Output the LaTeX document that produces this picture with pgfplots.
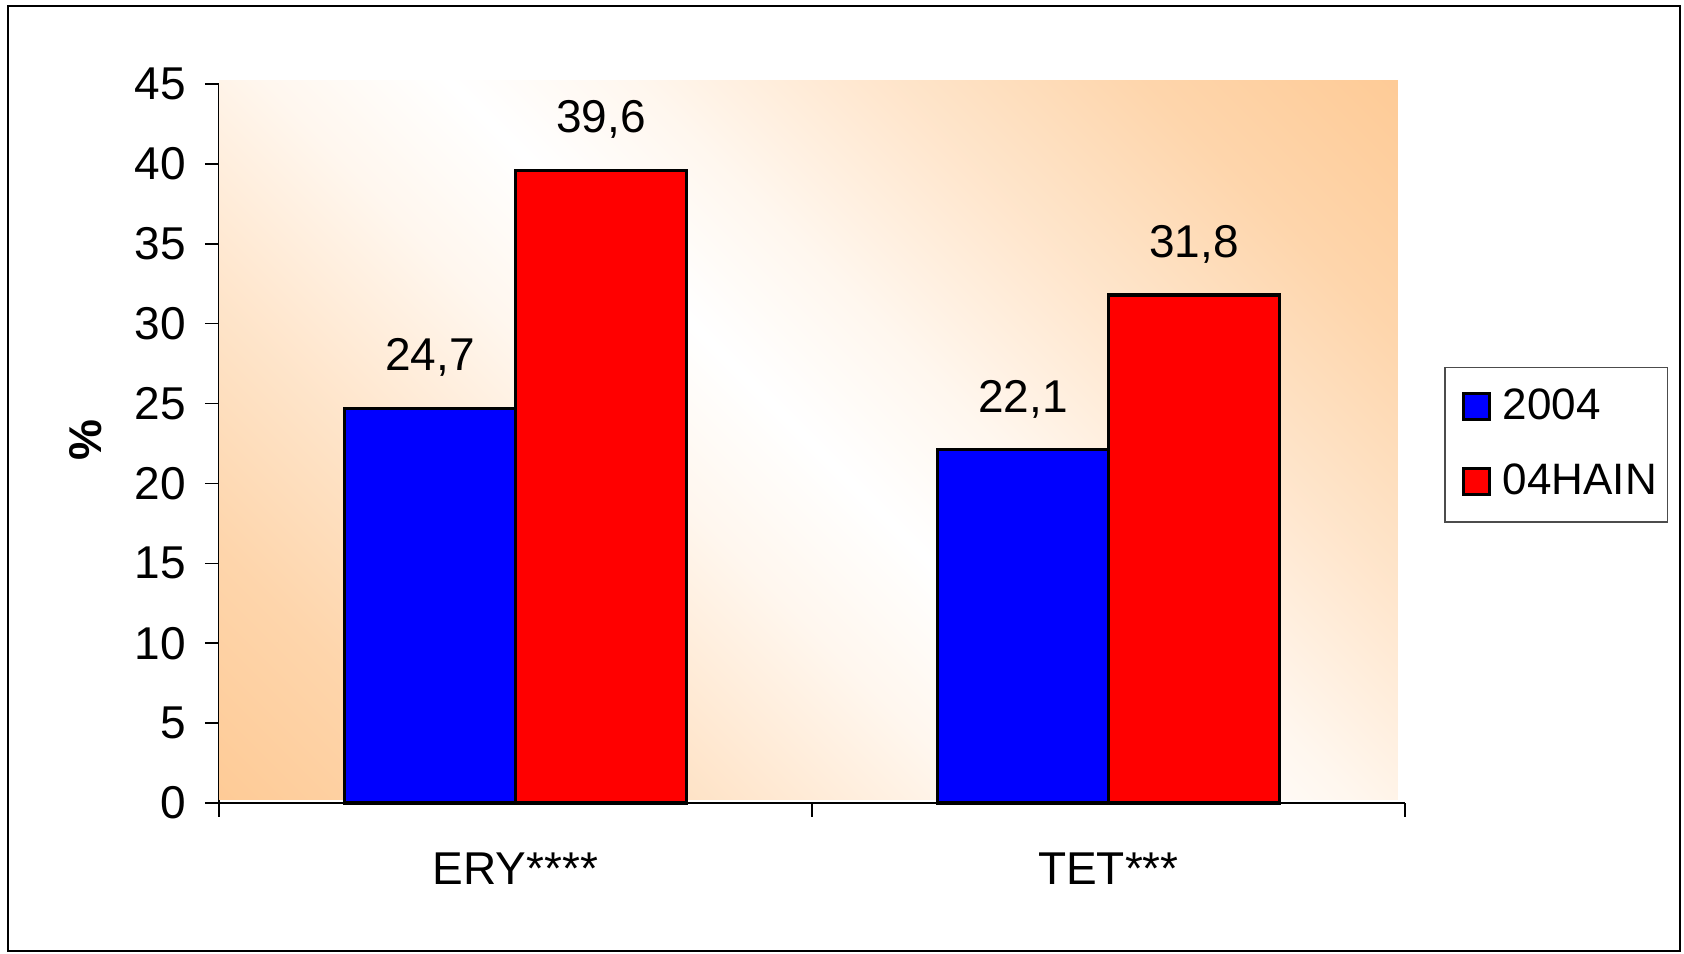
\documentclass[border=0pt]{standalone}
\usepackage{fontspec}
\setmainfont{Liberation Sans}
\usepackage{pgfplots}
\pgfplotsset{compat=1.18}

\definecolor{peach}{HTML}{FECB97}
\colorlet{peachA}{peach!80!white}
\colorlet{peachB}{peach!48!white}
\colorlet{peachC}{peach!16!white}
% diagonal wash: peach in two opposite corners, white along the other diagonal
\pgfdeclarehorizontalshading{peachdiag}{100bp}{%
  color(0bp)=(peach); color(14.6bp)=(peach); color(24bp)=(peachA);
  color(34bp)=(peachB); color(43bp)=(peachC); color(50bp)=(white);
  color(57bp)=(peachC); color(66bp)=(peachB); color(76bp)=(peachA);
  color(85.4bp)=(peach); color(100bp)=(peach)}

\newcommand\chartfont{\fontsize{11.5pt}{13.8pt}\selectfont}
\newcommand\legendfont{\fontsize{11pt}{13.2pt}\selectfont}

\begin{document}
\begin{tikzpicture}
% page and outer frame
\path (0pt,0pt) rectangle (421pt,238.5pt);
\draw[line width=0.45pt] (2pt,0.75pt) rectangle (420pt,237pt);

\begin{axis}[
  at={(54.75pt,37.75pt)}, anchor=south west,
  scale only axis, width=296.5pt, height=179.75pt,
  xmin=0, xmax=2, ymin=0, ymax=45, enlargelimits=false, clip=false,
  axis lines*=left, tick align=outside, major tick length=3.5pt,
  axis line style={line width=0.4pt},
  every tick/.style={black, line width=0.4pt},
  ytick={0,5,...,45},
  xtick={0,1,2}, xticklabels={},
  extra x ticks={0.5,1.5},
  extra x tick labels={ERY****,TET***},
  extra x tick style={major tick length=0pt},
  /pgf/number format/assume math mode=true,
  tick label style={font=\chartfont},
  xticklabel style={yshift=-8.9pt},
  yticklabel style={xshift=-1.2pt},
  ylabel={\%},
  ylabel style={font=\chartfont\bfseries, at={(axis description cs:-0.112,0.505)}, anchor=center},
  ybar=0pt, bar width=0.2884,
  nodes near coords={\pgfmathprintnumber[fixed,fixed zerofill,precision=1,use comma]{\pgfplotspointmeta}},
  every node near coord/.append style={font=\chartfont, anchor=base, yshift=9.4pt},
  legend style={at={(1.033,0.498)}, anchor=west, draw=black!70,
    line width=0.4pt, font=\legendfont, row sep=5.6pt,
    inner xsep=0.6pt, inner ysep=3.35pt},
  legend cell align=left,
  legend image code/.code={%
    % white spacer keeps room on both sides of the swatch
    \draw[white, line width=0.1pt] (0pt,0.2pt) -- (11.8pt,0.2pt);
    \draw[#1, draw=black, line width=0.8pt] (3.9pt,-3pt) rectangle (10.4pt,3.5pt);},
]
\shade[shading=peachdiag, shading angle=45] (axis cs:0,0.25) rectangle (axis cs:1.988,45.2);

\addplot[fill=blue, draw=black, line width=0.8pt] coordinates {(0.5,24.7) (1.5,22.1)};
\addplot[fill=red, draw=black, line width=0.8pt] coordinates {(0.5,39.6) (1.5,31.8)};
\legend{2004,04HAIN}
\end{axis}
\end{tikzpicture}
\end{document}
